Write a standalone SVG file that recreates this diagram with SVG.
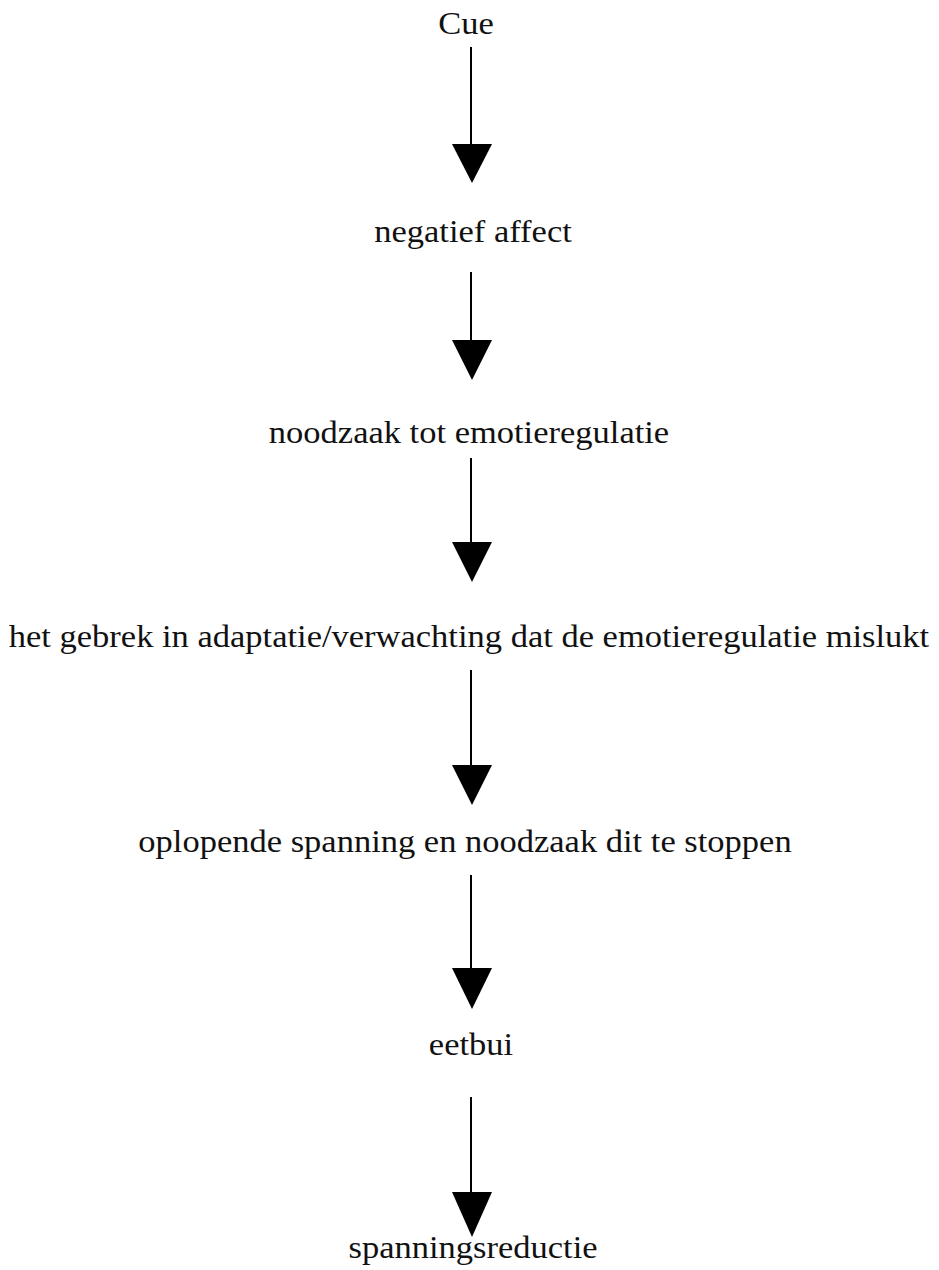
<svg xmlns="http://www.w3.org/2000/svg" width="939" height="1270" viewBox="0 0 939 1270">
<style>
.lbl{font-family:"Liberation Serif","Times New Roman",serif;font-size:34.5px;fill:#111;text-anchor:middle}
.ln{stroke:#000;stroke-width:2;fill:none}
.hd{fill:#000}
</style>
<rect width="939" height="1270" fill="#fff"/>
<g id="n0"><text class="lbl" transform="translate(466,34) scale(1,0.9)">Cue</text></g>
<g id="n1"><text class="lbl" transform="translate(473,242) scale(1,0.9)">negatief affect</text></g>
<g id="n2"><text class="lbl" transform="translate(469,443) scale(1,0.9)">noodzaak tot emotieregulatie</text></g>
<g id="n3"><text class="lbl" transform="translate(469,647) scale(1,0.9)">het gebrek in adaptatie/verwachting dat de emotieregulatie mislukt</text></g>
<g id="n4"><text class="lbl" transform="translate(465,852) scale(1,0.9)">oplopende spanning en noodzaak dit te stoppen</text></g>
<g id="n5"><text class="lbl" transform="translate(471,1055) scale(1,0.9)">eetbui</text></g>
<g id="n6"><text class="lbl" transform="translate(473,1258) scale(1,0.9)">spanningsreductie</text></g>
<g id="connectors">
<line class="ln" x1="471" y1="47" x2="471" y2="146"/><polygon class="hd" points="452,144 492,144 472,183"/>
<line class="ln" x1="471" y1="272" x2="471" y2="342"/><polygon class="hd" points="452,340 492,340 472,380"/>
<line class="ln" x1="471" y1="458" x2="471" y2="544"/><polygon class="hd" points="452,542 492,542 472,582"/>
<line class="ln" x1="471" y1="670" x2="471" y2="767"/><polygon class="hd" points="452,765 492,765 472,805"/>
<line class="ln" x1="471" y1="875" x2="471" y2="970"/><polygon class="hd" points="452,968 492,968 472,1009"/>
<line class="ln" x1="471" y1="1097" x2="471" y2="1194"/><polygon class="hd" points="452,1192 492,1192 472,1237"/>
</g>
</svg>
